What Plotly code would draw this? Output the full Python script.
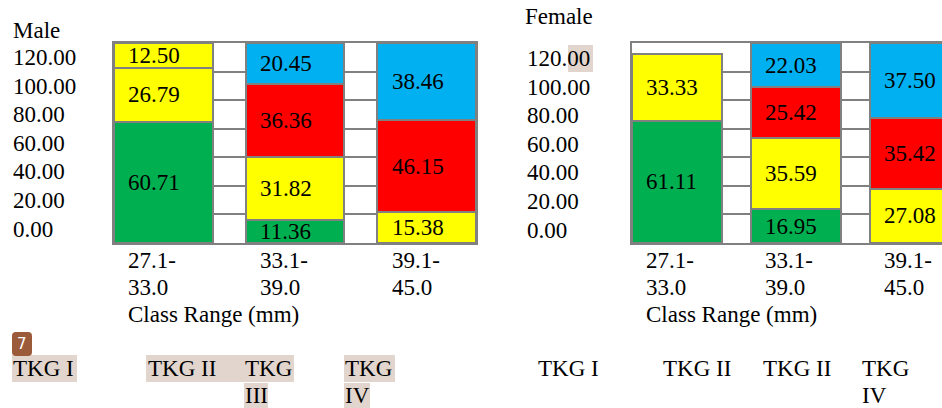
import plotly.graph_objects as go

# ---------------- data ----------------
categories = ["27.1-33.0", "33.1-39.0", "39.1-45.0"]
cat_line1 = ["27.1-", "33.1-", "39.1-"]
cat_line2 = ["33.0", "39.0", "45.0"]
y_tick_labels = ["0.00", "20.00", "40.00", "60.00", "80.00", "100.00", "120.00"]
x_title = "Class Range (mm)"

series_names = ["TKG I", "TKG II", "TKG III", "TKG IV", "TKG II"]

male_tkg1 = [60.71, 11.36, None]
male_tkg2 = [26.79, 31.82, 15.38]
male_tkg3 = [None, 36.36, 46.15]
male_tkg4 = [None, 20.45, 38.46]
male_tkg2_extra = [12.50, None, None]

female_tkg1 = [61.11, 16.95, None]
female_tkg2 = [33.33, 35.59, 27.08]
female_tkg3 = [None, 25.42, 35.42]
female_tkg4 = [None, 22.03, 37.50]
female_tkg2_extra = [None, None, None]

male_legend_labels = ["TKG I", "TKG II", "TKG<br>III", "TKG<br>IV"]
female_legend_labels = ["TKG I", "TKG II", "TKG II", "TKG<br>IV"]

# ---------------- style ----------------
W, H = 942, 408
FONT = "Liberation Serif, Times New Roman, serif"
FS = 23
GRAY = "#808080"
colors = ["#00B050", "#FFFF00", "#FF0000", "#00B0F0", "#FFFF00"]


def px(x):
    return x / W


def py(y):
    return 1 - y / H


def txt(**kw):
    d = dict(showarrow=False, borderpad=0,
             font=dict(family=FONT, size=FS, color="#000"))
    d.update(kw)
    return d


panels = [
    dict(title="Male", series=[male_tkg1, male_tkg2, male_tkg3, male_tkg4, male_tkg2_extra],
         xa="x", ya="y", dom=[px(114), px(476)], rng=[-0.375, 2.375], width=0.75,
         shift=-36, title_pos=(12, 31), ylab_x=12, ylab_dy=0,
         legend=male_legend_labels, legend_x=[12, 147, 244, 344]),
    dict(title="Female", series=[female_tkg1, female_tkg2, female_tkg3, female_tkg4, female_tkg2_extra],
         xa="x2", ya="y2", dom=[px(632), 1.0], rng=[-0.378, 2.23], width=0.756,
         shift=-32, title_pos=(524, 17), ylab_x=526, ylab_dy=1,
         legend=female_legend_labels, legend_x=[537, 662, 762, 861]),
]

fig = go.Figure()
annotations = []
shapes = []
ydom = [py(243), py(43)]

for p in panels:
    # stacked bars
    for name, vals, col in zip(series_names, p["series"], colors):
        fig.add_trace(go.Bar(
            x=categories, y=vals, name=name, width=p["width"],
            marker=dict(color=col, line=dict(color=GRAY, width=2)),
            xaxis=p["xa"], yaxis=p["ya"], showlegend=False, hoverinfo="skip",
        ))
    # value labels at stack midpoints
    for ci, cat in enumerate(categories):
        base = 0.0
        for vals in p["series"]:
            v = vals[ci]
            if v is None:
                continue
            annotations.append(txt(
                x=cat, y=base + v / 2, xref=p["xa"], yref=p["ya"],
                text=f"{v:.2f}", xanchor="left", yanchor="middle", xshift=p["shift"]))
            base += v
    # category labels (two lines) and axis title
    for ci, cat in enumerate(categories):
        for li, t in enumerate([cat_line1[ci], cat_line2[ci]]):
            annotations.append(txt(
                x=cat, y=ydom[0], xref=p["xa"], yref="paper", text=t,
                xanchor="left", yanchor="middle", xshift=p["shift"], yshift=-(17 + 27 * li)))
    annotations.append(txt(
        x=categories[0], y=ydom[0], xref=p["xa"], yref="paper", text=x_title,
        xanchor="left", yanchor="middle", xshift=p["shift"], yshift=-71))
    # panel title
    annotations.append(txt(
        x=px(p["title_pos"][0]), y=py(p["title_pos"][1]), xref="paper", yref="paper",
        text=p["title"], xanchor="left", yanchor="middle"))
    # y labels (left aligned, between gridlines)
    for i, lab in enumerate(y_tick_labels):
        annotations.append(txt(
            x=px(p["ylab_x"]), y=py(229 + p["ylab_dy"] - i * 28.6), xref="paper", yref="paper",
            text=lab, xanchor="left", yanchor="middle"))
    # bottom legend texts
    for lab, lx in zip(p["legend"], p["legend_x"]):
        for li, part in enumerate(lab.split("<br>")):
            annotations.append(txt(
                x=px(lx), y=py(368 + 27 * li), xref="paper", yref="paper",
                text=part, xanchor="left", yanchor="middle"))

# highlight boxes (search highlights in the source picture)
HL = "rgba(210,190,178,0.65)"
for (x0, y0, x1, y1) in [(12, 355, 77, 382), (146, 355, 294, 382), (244, 383, 268, 408),
                         (344, 355, 395, 382), (344, 383, 370, 408), (568, 45, 593, 72)]:
    shapes.append(dict(type="rect", xref="paper", yref="paper",
                       x0=px(x0), x1=px(x1), y0=py(y1), y1=py(y0),
                       fillcolor=HL, line=dict(width=0), layer="below"))

# badge "7" (rounded rectangle)
bx0, bx1, by0, by1, r = 12, 32, 332, 356, 4
path = (f"M {px(bx0 + r)},{py(by0)} L {px(bx1 - r)},{py(by0)} "
        f"Q {px(bx1)},{py(by0)} {px(bx1)},{py(by0 + r)} L {px(bx1)},{py(by1 - r)} "
        f"Q {px(bx1)},{py(by1)} {px(bx1 - r)},{py(by1)} L {px(bx0 + r)},{py(by1)} "
        f"Q {px(bx0)},{py(by1)} {px(bx0)},{py(by1 - r)} L {px(bx0)},{py(by0 + r)} "
        f"Q {px(bx0)},{py(by0)} {px(bx0 + r)},{py(by0)} Z")
shapes.append(dict(type="path", xref="paper", yref="paper", path=path,
                   fillcolor="#9B5A3A", line=dict(width=0), layer="above"))
annotations.append(dict(x=px(22), y=py(344), xref="paper", yref="paper", text="7",
                        showarrow=False, xanchor="center", yanchor="middle",
                        font=dict(family="DejaVu Sans", size=15, color="white")))

grid_vals = [k * 100 / 7 for k in range(8)]
axis_common_y = dict(range=[0, 100], tickvals=grid_vals, showticklabels=False, ticks="",
                     showgrid=True, gridcolor=GRAY, gridwidth=2, zeroline=False,
                     showline=True, linecolor=GRAY, linewidth=2, domain=ydom, fixedrange=True)
axis_common_x = dict(showticklabels=False, ticks="", showgrid=False, zeroline=False,
                     showline=True, linecolor=GRAY, linewidth=2, mirror=True,
                     type="category", fixedrange=True)

fig.update_layout(
    width=W, height=H, margin=dict(l=0, r=0, t=0, b=0),
    paper_bgcolor="white", plot_bgcolor="white",
    barmode="stack",
    xaxis=dict(**axis_common_x, domain=panels[0]["dom"], range=panels[0]["rng"], anchor="y"),
    yaxis=dict(**axis_common_y, anchor="x", mirror=True),
    xaxis2=dict(**axis_common_x, domain=panels[1]["dom"], range=panels[1]["rng"], anchor="y2"),
    yaxis2=dict(**axis_common_y, anchor="x2", mirror=False),
    annotations=annotations, shapes=shapes,
    showlegend=False,
)

fig.write_html(
    "out.html",
    config={"displayModeBar": False},
    post_script="document.body.style.margin='0';document.body.style.overflow='hidden';",
)
